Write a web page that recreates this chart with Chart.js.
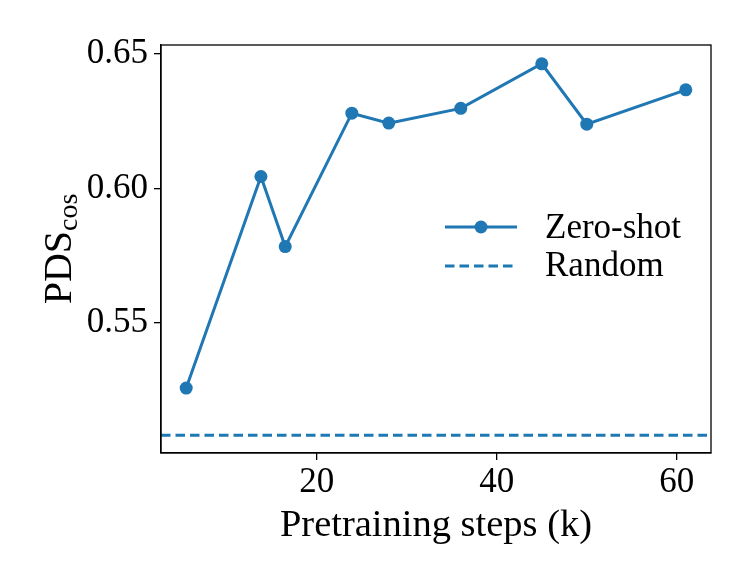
<!DOCTYPE html>
<html>
<head>
<meta charset="utf-8">
<script src="https://cdn.jsdelivr.net/npm/chart.js@4/dist/chart.umd.min.js"></script>
<style>
  html, body { margin: 0; padding: 0; background: #fff; }
  #wrap { width: 753px; height: 586px; }
</style>
</head>
<body>
<div id="wrap"><canvas id="chart" width="753" height="586"></canvas></div>
<script>
// data
const steps = [5.5, 13.8, 16.5, 23.9, 28.0, 36.0, 45.0, 50.0, 61.0];
const zeroShot = [0.5256, 0.6044, 0.5783, 0.6280, 0.6243, 0.6298, 0.6464, 0.6239, 0.6367];
const randomLevel = 0.508;
const xTicks = [20, 40, 60];
const yTicks = [0.55, 0.60, 0.65];
const xRange = [2.7, 63.8];
const yRange = [0.5014, 0.6534];

const blue = '#1f77b4';
const serif = '"Liberation Serif", "DejaVu Serif", serif';
const dash = [9.5, 5];

const frame = {
    id: 'frame',
    afterDraw(chart) {
        const ctx = chart.ctx;
        const a = chart.chartArea;
        ctx.save();
        ctx.strokeStyle = '#000';
        ctx.lineWidth = 1.3;
        ctx.strokeRect(a.left, a.top, a.right - a.left, a.bottom - a.top);

        // x title
        ctx.fillStyle = '#000';
        ctx.font = '38.5px ' + serif;
        ctx.textAlign = 'center';
        ctx.textBaseline = 'alphabetic';
        ctx.fillText('Pretraining steps (k)', (a.left + a.right) / 2, 536);

        // y title with subscript
        ctx.textAlign = 'left';
        ctx.translate(58, 249);
        ctx.rotate(-Math.PI / 2);
        ctx.font = '40px ' + serif;
        const w1 = ctx.measureText('PDS').width;
        ctx.font = '28px ' + serif;
        const w2 = ctx.measureText('cos').width;
        const start = -(w1 + w2) / 2;
        ctx.font = '40px ' + serif;
        ctx.fillText('PDS', start, 13);
        ctx.font = '28px ' + serif;
        ctx.fillText('cos', start + w1, 19);
        ctx.restore();

        // legend
        ctx.save();
        ctx.strokeStyle = blue;
        ctx.lineWidth = 3;
        ctx.beginPath();
        ctx.moveTo(445, 227);
        ctx.lineTo(517, 227);
        ctx.stroke();
        ctx.fillStyle = blue;
        ctx.beginPath();
        ctx.arc(481, 227, 6.5, 0, Math.PI * 2);
        ctx.fill();
        ctx.setLineDash(dash);
        ctx.beginPath();
        ctx.moveTo(445, 266);
        ctx.lineTo(517, 266);
        ctx.stroke();
        ctx.setLineDash([]);
        ctx.fillStyle = '#000';
        ctx.font = '35px ' + serif;
        ctx.textBaseline = 'alphabetic';
        ctx.fillText('Zero-shot', 545, 238);
        ctx.fillText('Random', 545, 276);
        ctx.restore();
    }
};

new Chart(document.getElementById('chart'), {
    type: 'line',
    data: {
        datasets: [{
            label: 'Zero-shot',
            data: steps.map((s, i) => ({ x: s, y: zeroShot[i] })),
            borderColor: blue,
            backgroundColor: blue,
            borderWidth: 3,
            pointRadius: 6.5,
            pointBorderWidth: 0,
            tension: 0
        }, {
            label: 'Random',
            data: [{ x: xRange[0], y: randomLevel }, { x: xRange[1], y: randomLevel }],
            borderColor: blue,
            borderWidth: 3,
            borderDash: dash,
            pointRadius: 0
        }]
    },
    options: {
        responsive: false,
        animation: false,
        layout: { padding: { top: 45, right: 42, left: 0, bottom: 0 } },
        plugins: { legend: { display: false }, tooltip: { enabled: false } },
        scales: {
            x: {
                type: 'linear',
                min: xRange[0],
                max: xRange[1],
                afterBuildTicks: s => { s.ticks = xTicks.map(v => ({ value: v })); },
                afterFit: s => { s.height = 133; },
                grid: { drawOnChartArea: false, drawTicks: true, tickLength: 7, color: '#000', lineWidth: 1.3 },
                border: { display: true, color: '#000', width: 1.3 },
                ticks: { color: '#000', font: { family: serif, size: 35 }, padding: 2, maxRotation: 0 }
            },
            y: {
                type: 'linear',
                min: yRange[0],
                max: yRange[1],
                afterBuildTicks: s => { s.ticks = yTicks.map(v => ({ value: v })); },
                afterFit: s => { s.width = 161; },
                grid: { drawOnChartArea: false, drawTicks: true, tickLength: 7, color: '#000', lineWidth: 1.3 },
                border: { display: true, color: '#000', width: 1.3 },
                ticks: { color: '#000', font: { family: serif, size: 35 }, padding: 6, callback: v => v.toFixed(2) }
            }
        }
    },
    plugins: [frame]
});
</script>
</body>
</html>
